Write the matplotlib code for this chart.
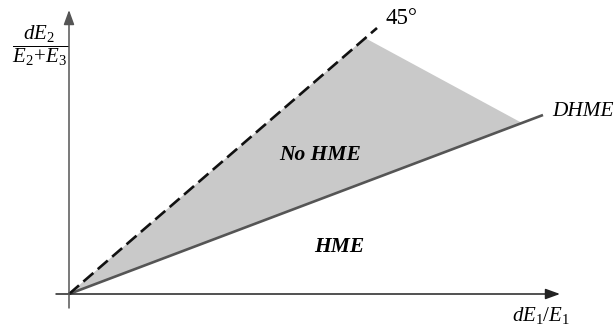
import matplotlib.pyplot as plt

plt.rcParams['font.family'] = 'Liberation Serif'
plt.rcParams['mathtext.fontset'] = 'custom'
plt.rcParams['mathtext.rm'] = 'Liberation Serif'
plt.rcParams['mathtext.it'] = 'Liberation Serif:italic'

# Axis extents (diagram units)
x_axis = [-0.13, 4.91]
y_axis = [-0.14, 2.84]

# Boundary lines through the origin
line_45_x = [0, 3.08]
line_45_y = [0, 2.66]
dhme_x = [0, 4.74]
dhme_y = [0, 1.79]

# Shaded "No HME" region
region_x = [0, 2.96, 4.53]
region_y = [0, 2.56, 1.71]

fig = plt.figure(figsize=(6.16, 3.28), dpi=100)
ax = fig.add_axes([0, 0, 1, 1])
ax.set_xlim(-0.69, 5.47)
ax.set_ylim(-0.34, 2.94)
ax.axis('off')

ax.fill(region_x, region_y, color='#c9c9c9', lw=0, zorder=1)
ax.plot(dhme_x, dhme_y, color='#555555', lw=1.9, solid_capstyle='butt', zorder=2)
ax.plot(line_45_x, line_45_y, color='#111111', lw=1.9, dashes=(5, 2.2),
        dash_capstyle='butt', zorder=3)

# axes with arrowheads
arrow = '-|>,head_length=0.55,head_width=0.2'
ax.annotate('', xy=(x_axis[1], 0), xytext=(x_axis[0], 0),
            arrowprops=dict(arrowstyle=arrow, mutation_scale=16, lw=1.1,
                            color='#222222', shrinkA=0, shrinkB=0), zorder=4)
ax.annotate('', xy=(0, y_axis[1]), xytext=(0, y_axis[0]),
            arrowprops=dict(arrowstyle=arrow, mutation_scale=16, lw=1.1,
                            color='#555555', shrinkA=0, shrinkB=0), zorder=4)

# labels
ax.text(-0.29, 2.48, r'$\dfrac{dE_2}{E_2\!+\!E_3}$', fontsize=15,
        ha='center', va='center')
ax.text(4.72, -0.22, r'$dE_1/E_1$', fontsize=15, ha='center', va='center')
ax.text(3.16, 2.75, '45°', fontsize=16.5, ha='left', va='center')
ax.text(4.83, 1.82, 'DHME', fontsize=15.3, style='italic', ha='left', va='center')
ax.text(2.51, 1.39, 'No HME', fontsize=15.5, style='italic', weight='bold',
        ha='center', va='center')
ax.text(2.70, 0.47, 'HME', fontsize=15.5, style='italic', weight='bold',
        ha='center', va='center')

fig.savefig('out.png', dpi=100)
